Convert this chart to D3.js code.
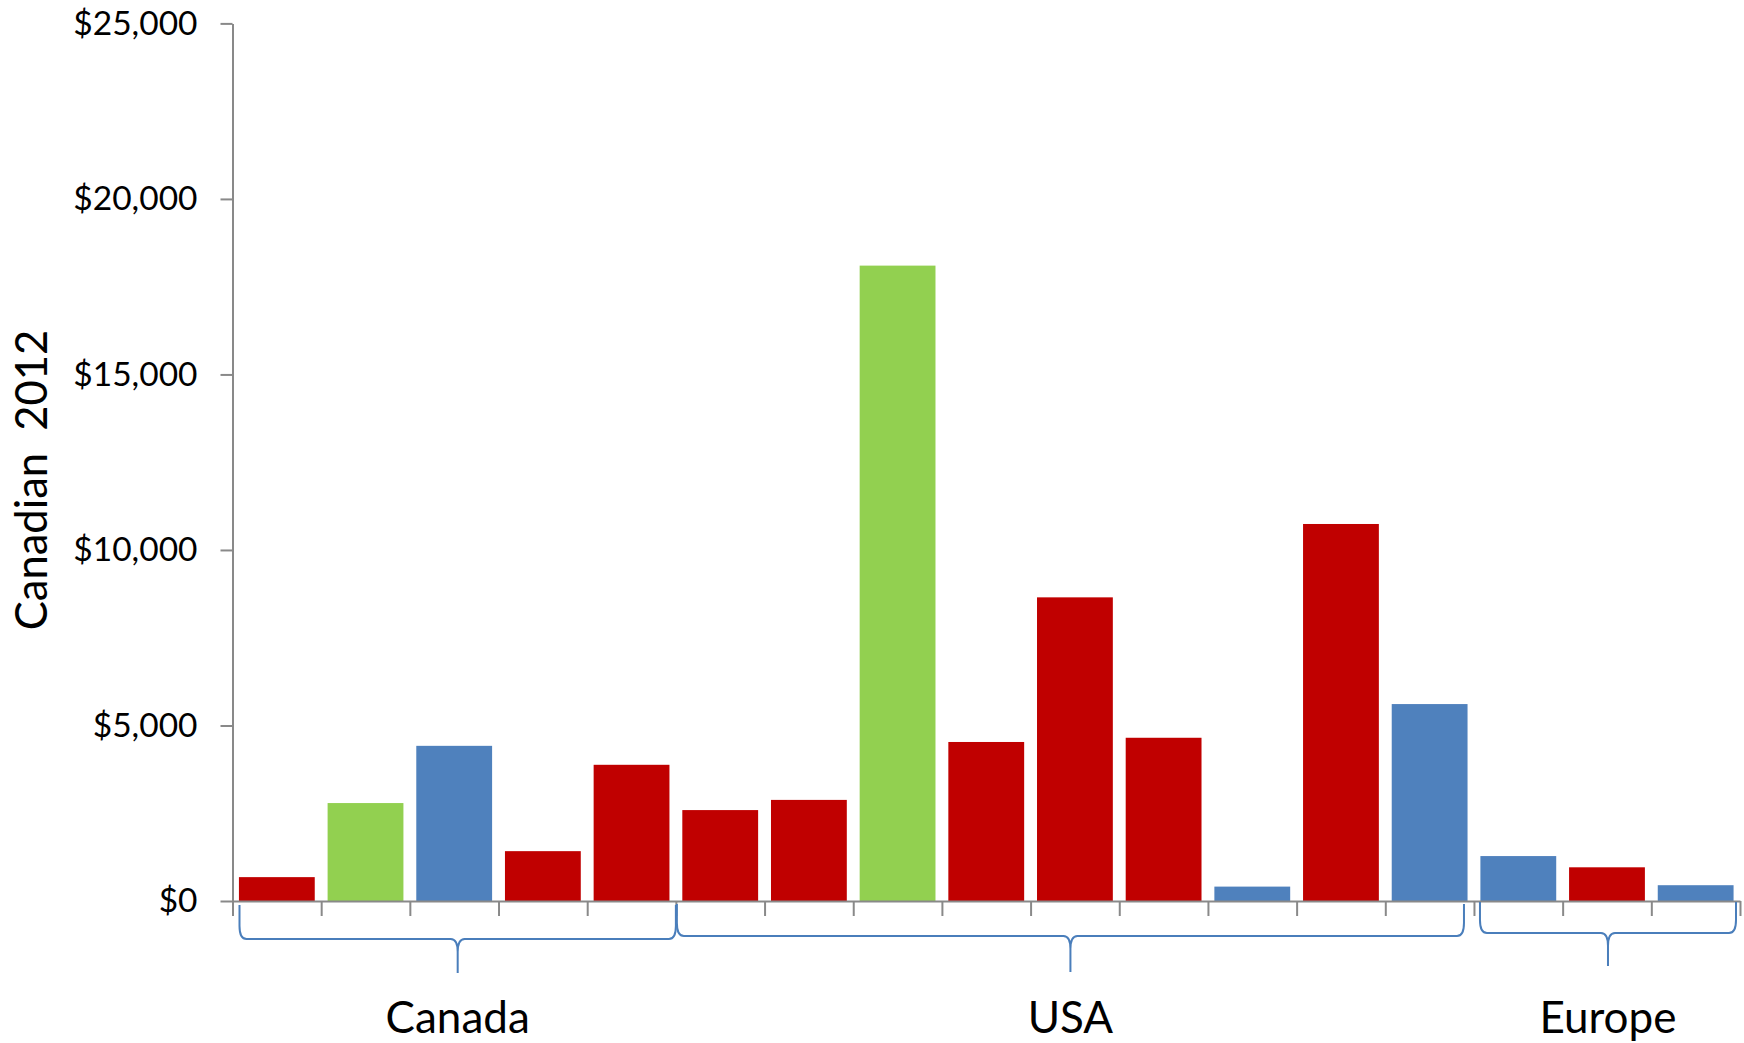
<!DOCTYPE html>
<html>
<head>
<meta charset="utf-8">
<script src="https://cdn.jsdelivr.net/npm/d3@7"></script>
<style>
  html, body { margin: 0; padding: 0; background: #fff; }
  svg { display: block; font-family: Lato, "Open Sans", sans-serif; }
</style>
</head>
<body>
<svg id="chart" width="1744" height="1043"></svg>
<script>
// Spending per item, grouped by region (Canadian dollars, 2012)
const groups = ["Canada", "USA", "Europe"];
const groupSizes = [5, 9, 3];
const itemIds = ["ca1", "ca2", "ca3", "ca4", "ca5",
                 "us1", "us2", "us3", "us4", "us5", "us6", "us7", "us8", "us9",
                 "eu1", "eu2", "eu3"];
const values = [680, 2790, 4420, 1420, 3880,
                 2590, 2880, 18100, 4530, 8650, 4650, 410, 10740, 5610,
                 1280, 960, 450];
const kinds = ["a", "b", "c", "a", "a",
               "a", "a", "b", "a", "a", "a", "c", "a", "c",
               "c", "a", "c"];
const yTicks = [0, 5000, 10000, 15000, 20000, 25000];
const yTickLabels = ["$0", "$5,000", "$10,000", "$15,000", "$20,000", "$25,000"];
const yTitle = "Canadian\u00a0\u00a02012";

const svg = d3.select("#chart");
const plot = { left: 232.5, right: 1740, top: 23.4, bottom: 901 };
const axisGrey = "#898989";

const color = d3.scaleOrdinal()
  .domain(["a", "b", "c"])
  .range(["#C00000", "#92D050", "#4F81BD"]);

const x = d3.scaleBand()
  .domain(itemIds)
  .range([plot.left, plot.right])
  .paddingInner(0.145)
  .paddingOuter(0.0725);

const y = d3.scaleLinear()
  .domain([0, 25000])
  .range([plot.bottom, plot.top]);

// bars
svg.append("g")
  .selectAll("rect")
  .data(values)
  .join("rect")
  .attr("x", (d, i) => x(itemIds[i]))
  .attr("width", x.bandwidth())
  .attr("y", d => y(d))
  .attr("height", d => y(0) - y(d))
  .attr("fill", (d, i) => color(kinds[i]));

// y axis
const yAxis = svg.append("g")
  .attr("transform", `translate(${plot.left},0)`)
  .call(d3.axisLeft(y)
    .tickValues(yTicks)
    .tickFormat((d, i) => yTickLabels[i])
    .tickSize(12)
    .tickSizeOuter(0)
    .tickPadding(23));
yAxis.select(".domain").attr("stroke", axisGrey).attr("stroke-width", 2);
yAxis.selectAll(".tick line").attr("stroke", axisGrey).attr("stroke-width", 2);
yAxis.selectAll(".tick text")
  .attr("fill", "#000")
  .style("font-size", "33.5px")
  .style("font-family", "Lato, sans-serif");

// x axis: ticks at category boundaries
const xEdge = d3.scaleLinear()
  .domain([0, itemIds.length])
  .range([plot.left, plot.right]);
const xAxis = svg.append("g")
  .attr("transform", `translate(0,${plot.bottom})`)
  .call(d3.axisBottom(xEdge)
    .tickValues(d3.range(itemIds.length + 1))
    .tickFormat("")
    .tickSize(15)
    .tickSizeOuter(0));
xAxis.select(".domain").attr("stroke", axisGrey).attr("stroke-width", 2);
xAxis.selectAll(".tick line").attr("stroke", axisGrey).attr("stroke-width", 2);

// y axis title
svg.append("text")
  .attr("transform", `translate(47,480) rotate(-90)`)
  .attr("text-anchor", "middle")
  .style("font-size", "43.5px")
  .attr("fill", "#000")
  .text(yTitle);

// group braces and labels
function bracePath(x0, x1, yTop, yMid, yTip) {
  const xm = (x0 + x1) / 2, rx = 7, ry = 13;
  return [
    `M${x0},${yTop}`, `L${x0},${yMid - ry}`,
    `Q${x0},${yMid} ${x0 + rx},${yMid}`,
    `L${xm - rx},${yMid}`,
    `Q${xm},${yMid} ${xm},${yMid + ry}`,
    `L${xm},${yTip}`,
    `M${xm},${yMid + ry}`,
    `Q${xm},${yMid} ${xm + rx},${yMid}`,
    `L${x1 - rx},${yMid}`,
    `Q${x1},${yMid} ${x1},${yMid - ry}`,
    `L${x1},${yTop}`
  ].join(" ");
}

// vertical offsets below the axis: [ends, bar, tip]
const braceDepth = [[4, 38, 72], [3, 35, 71], [1, 32, 65]];
// horizontal insets from the group's outer category edges: [left, right]
const braceInset = [[7, 0], [1, 10], [6, 4]];
let start = 0;
groups.forEach((g, gi) => {
  const x0 = xEdge(start) + braceInset[gi][0];
  const x1 = xEdge(start + groupSizes[gi]) - braceInset[gi][1];
  const [dTop, dMid, dTip] = braceDepth[gi];
  svg.append("path")
    .attr("d", bracePath(x0, x1, plot.bottom + dTop, plot.bottom + dMid, plot.bottom + dTip))
    .attr("fill", "none")
    .attr("stroke", "#4A7EBB")
    .attr("stroke-width", 2);
  svg.append("text")
    .attr("x", (x0 + x1) / 2)
    .attr("y", 1033)
    .attr("text-anchor", "middle")
    .style("font-size", "44px")
    .attr("fill", "#000")
    .text(g);
  start += groupSizes[gi];
});
</script>
</body>
</html>
